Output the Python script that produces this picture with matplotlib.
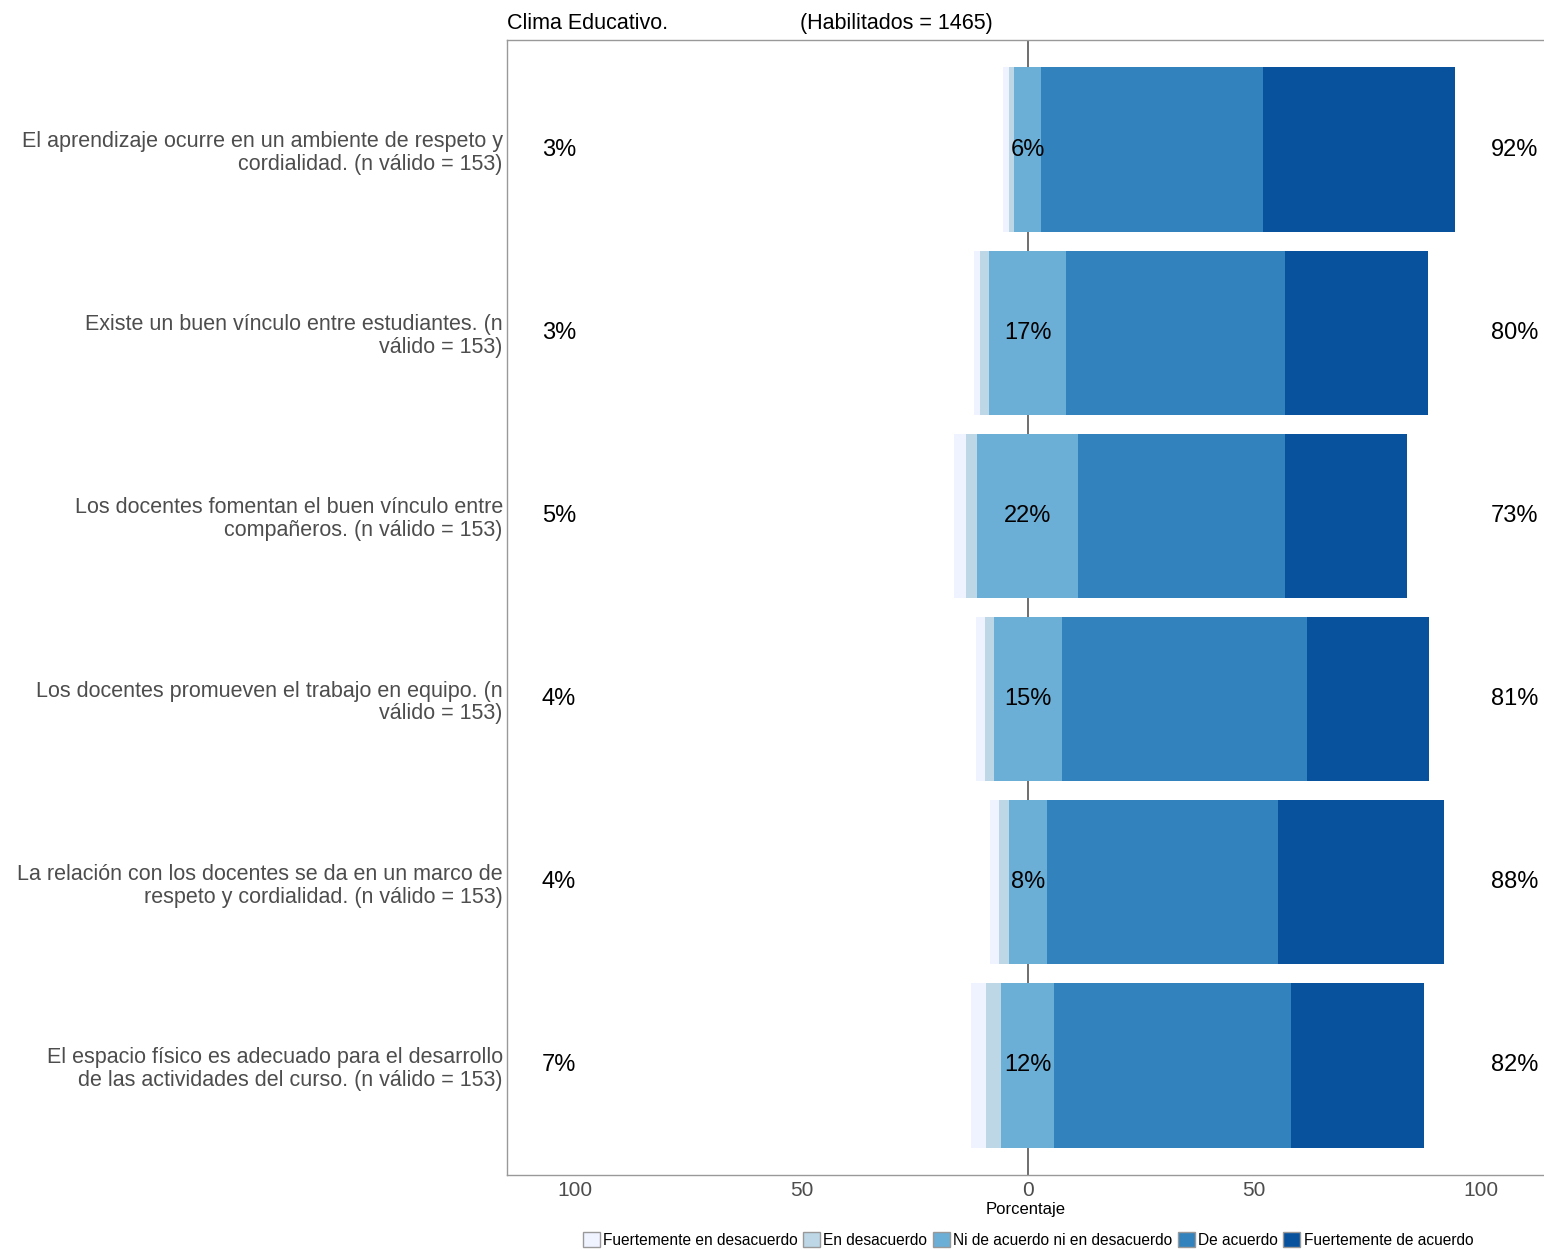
import textwrap
import matplotlib
matplotlib.use("Agg")
import matplotlib.pyplot as plt
from matplotlib.patches import Patch
import numpy as np

plt.rcParams['font.family'] = ['Liberation Sans', 'DejaVu Sans']

items = [
    "El aprendizaje ocurre en un ambiente de respeto y cordialidad. (n válido = 153)",
    "Existe un buen vínculo entre estudiantes. (n válido = 153)",
    "Los docentes fomentan el buen vínculo entre compañeros. (n válido = 153)",
    "Los docentes promueven el trabajo en equipo. (n válido = 153)",
    "La relación con los docentes se da en un marco de respeto y cordialidad. (n válido = 153)",
    "El espacio físico es adecuado para el desarrollo de las actividades del curso. (n válido = 153)",
]
levels = ["Fuertemente en desacuerdo", "En desacuerdo", "Ni de acuerdo ni en desacuerdo",
          "De acuerdo", "Fuertemente de acuerdo"]
# percentages per item
fuert_desac = [1.3, 1.3, 2.6, 2.0, 2.0, 3.3]
desac = [1.3, 2.0, 2.6, 2.0, 2.0, 3.3]
neutral = [5.9, 17.0, 22.2, 15.0, 8.5, 11.8]
acuerdo = [49.0, 48.4, 45.8, 54.2, 51.0, 52.3]
fuert_acuerdo = [42.5, 31.4, 26.8, 26.8, 36.6, 29.4]
low_labels = ["3%", "3%", "5%", "4%", "4%", "7%"]
mid_labels = ["6%", "17%", "22%", "15%", "8%", "12%"]
high_labels = ["92%", "80%", "73%", "81%", "88%", "82%"]
xticks = [-100, -50, 0, 50, 100]
colors = ["#eff3ff", "#bdd7e7", "#6baed6", "#3182bd", "#08519c"]
title_left = "Clima Educativo."
title_right = "(Habilitados = 1465)"
xlabel = "Porcentaje"

fig = plt.figure(figsize=(15.44, 12.5), dpi=100)
W, H = 1544, 1250
ax = fig.add_axes([507 / W, 1 - 1175 / H, (1544 - 507) / W, (1175 - 40) / H])

y = np.arange(len(items))
fd = np.array(fuert_desac); d = np.array(desac); n = np.array(neutral)
a = np.array(acuerdo); fa = np.array(fuert_acuerdo)
h = 0.9

ax.axvline(0, color="#555555", lw=1.2, zorder=0)
# negative side
ax.barh(y, -n / 2, left=0, height=h, color=colors[2], zorder=2)
ax.barh(y, -d, left=-n / 2, height=h, color=colors[1], zorder=2)
ax.barh(y, -fd, left=-n / 2 - d, height=h, color=colors[0], zorder=2)
# positive side
ax.barh(y, n / 2, left=0, height=h, color=colors[2], zorder=2)
ax.barh(y, a, left=n / 2, height=h, color=colors[3], zorder=2)
ax.barh(y, fa, left=n / 2 + a, height=h, color=colors[4], zorder=2)

for i in range(len(items)):
    ax.text(-103.5, i, low_labels[i], ha="center", va="center", fontsize=17, color="black")
    ax.text(0, i, mid_labels[i], ha="center", va="center", fontsize=17, color="black", zorder=3)
    ax.text(107.5, i, high_labels[i], ha="center", va="center", fontsize=17, color="black")

ax.set_xlim(-115, 114)
ax.set_ylim(len(items) - 0.4, -0.6)
ax.set_xticks(xticks)
ax.set_xticklabels([str(abs(v)) for v in xticks])
ax.set_yticks(y)
ax.set_yticklabels([textwrap.fill(s, 50) for s in items], ha="right", linespacing=1.12)
ax.tick_params(axis="y", length=0, pad=3, labelsize=15.5, labelcolor="#4d4d4d")
ax.tick_params(axis="x", length=0, pad=4, labelsize=15, labelcolor="#4d4d4d")
ax.set_xlabel(xlabel, fontsize=12, labelpad=2)

for s in ["left", "top", "bottom"]:
    ax.spines[s].set_color("#999999")
    ax.spines[s].set_linewidth(1.0)
ax.spines["right"].set_visible(False)

ax.text(0, 1.005, title_left, transform=ax.transAxes, ha="left", va="bottom", fontsize=15.5)
ax.text((800 - 507) / (1544 - 507), 1.005, title_right, transform=ax.transAxes,
        ha="left", va="bottom", fontsize=15.5)

handles = [Patch(facecolor=c, edgecolor="#999999", linewidth=1.0, label=l) for c, l in zip(colors, levels)]
fig.legend(handles=handles, loc="center", bbox_to_anchor=(1028 / W, 1 - 1240 / H), ncol=5,
           frameon=False, fontsize=11.2, handlelength=1.1, handleheight=1.1,
           handletextpad=0.2, columnspacing=0.35, borderaxespad=0)

fig.savefig("out.png", dpi=100)
